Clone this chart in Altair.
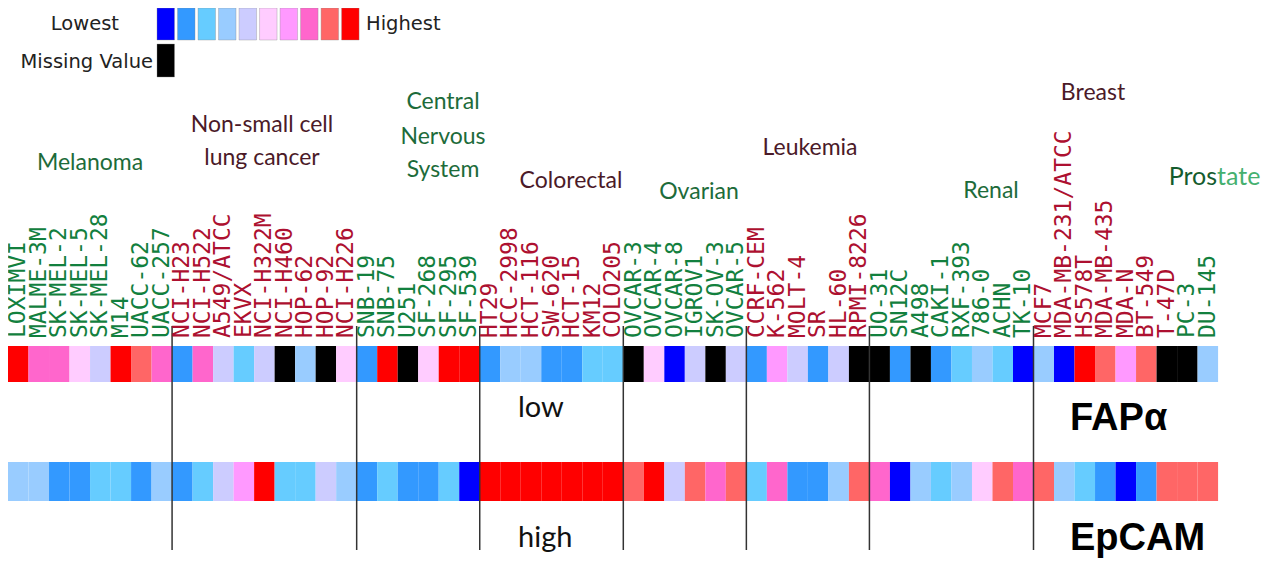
import altair as alt
import pandas as pd

# ---------------- data ----------------
groups = ["Melanoma", "Non-small cell lung cancer", "Central Nervous System",
          "Colorectal", "Ovarian", "Leukemia", "Renal", "Breast", "Prostate"]
group_sizes = [8, 9, 6, 7, 6, 6, 8, 7, 2]

cell_lines = [
    "LOXIMVI", "MALME-3M", "SK-MEL-2", "SK-MEL-5", "SK-MEL-28", "M14", "UACC-62", "UACC-257",
    "NCI-H23", "NCI-H522", "A549/ATCC", "EKVX", "NCI-H322M", "NCI-H460", "HOP-62", "HOP-92", "NCI-H226",
    "SNB-19", "SNB-75", "U251", "SF-268", "SF-295", "SF-539",
    "HT29", "HCC-2998", "HCT-116", "SW-620", "HCT-15", "KM12", "COLO205",
    "OVCAR-3", "OVCAR-4", "OVCAR-8", "IGROV1", "SK-OV-3", "OVCAR-5",
    "CCRF-CEM", "K-562", "MOLT-4", "SR", "HL-60", "RPMI-8226",
    "UO-31", "SN12C", "A498", "CAKI-1", "RXF-393", "786-0", "ACHN", "TK-10",
    "MCF7", "MDA-MB-231/ATCC", "HS578T", "MDA-MB-435", "MDA-N", "BT-549", "T-47D",
    "PC-3", "DU-145",
]

# expression level 1 (lowest) .. 10 (highest); 0 = missing value
fap_levels = [
    10, 8, 8, 6, 5, 10, 9, 8,
    2, 8, 5, 3, 5, 0, 4, 0, 6,
    2, 10, 0, 6, 10, 10,
    2, 4, 4, 2, 2, 3, 3,
    0, 6, 1, 5, 0, 5,
    2, 7, 5, 2, 5, 0,
    0, 2, 0, 2, 3, 4, 3, 1,
    4, 1, 10, 9, 7, 9, 0,
    0, 4,
]
epcam_levels = [
    4, 4, 2, 2, 3, 3, 2, 4,
    2, 3, 5, 7, 10, 3, 3, 5, 4,
    2, 3, 2, 2, 3, 1,
    10, 10, 10, 10, 10, 10, 10,
    9, 10, 5, 9, 8, 9,
    3, 8, 2, 2, 4, 9,
    8, 1, 4, 3, 4, 6, 9, 8,
    9, 4, 3, 2, 1, 2, 9,
    9, 9,
]

markers = ["FAPα", "EpCAM"]
marker_notes = ["low", "high"]

level_names = ["1", "2", "3", "4", "5", "6", "7", "8", "9", "10", "NA"]
level_colors = ["#0000ff", "#3399ff", "#66ccff", "#99ccff", "#ccccff",
                "#ffccff", "#ff99ff", "#ff66cc", "#ff6666", "#ff0000", "#000000"]

# ---------------- layout (pixels of the page) ----------------
CELL = 20.51
PAD_L = 8
W, H = 1262 - PAD_L, 552
XMAX = W / CELL
X0 = 8 + PAD_L  # page x of the plot origin


def ux(px):
    return (px - X0) / CELL


def uy(py):
    return py - 8


HEAT_X0 = ux(8)  # heatmap starts at page x = 8

xs = alt.Scale(domain=[0, XMAX], nice=False, zero=False)
ys = alt.Scale(domain=[0, H], nice=False, zero=False, reverse=True)
X = lambda f: alt.X(f, scale=xs, axis=None)
Y = lambda f: alt.Y(f, scale=ys, axis=None)

LABEL_GREEN = "#12803e"
LABEL_RED = "#ad1030"
TITLE_GREEN = "#1d6b3a"
TITLE_RED = "#4b1a28"

row_bands = [(346, 382), (462, 501)]

# heatmap cells
rows = []
for m, (marker, vals) in enumerate(zip(markers, [fap_levels, epcam_levels])):
    top, bot = row_bands[m]
    for i, (name, v) in enumerate(zip(cell_lines, vals)):
        rows.append({"marker": marker, "cell": name,
                     "x": HEAT_X0 + i, "x2": HEAT_X0 + i + 1,
                     "y": uy(top), "y2": uy(bot),
                     "level": "NA" if v == 0 else str(v)})
heat_df = pd.DataFrame(rows)

color_scale = alt.Scale(domain=level_names, range=level_colors)

heat = alt.Chart(heat_df).mark_rect().encode(
    x=X("x:Q"), x2="x2", y=Y("y:Q"), y2="y2",
    color=alt.Color("level:N", scale=color_scale, legend=None),
    tooltip=["marker", "cell", "level"],
)

# cell-line labels
label_rows = []
start = 0
for g, size in enumerate(group_sizes):
    col = LABEL_GREEN if g % 2 == 0 else LABEL_RED
    for i in range(start, start + size):
        label_rows.append({"x": HEAT_X0 + i + 0.5, "y": uy(338),
                           "label": cell_lines[i], "col": col})
    start += size
label_df = pd.DataFrame(label_rows)
labels = alt.Chart(label_df).mark_text(
    angle=270, align="left", baseline="middle", font="DejaVu Sans Mono", fontSize=23
).encode(x=X("x:Q"), y=Y("y:Q"), text="label:N", color=alt.Color("col:N", scale=None))

# group separators (none between Breast and Prostate)
bounds = []
acc = 0
for size in group_sizes[:-2]:
    acc += size
    bounds.append(HEAT_X0 + acc)
rule_df = pd.DataFrame({"x": bounds, "y": uy(326), "y2": uy(550)})
rules = alt.Chart(rule_df).mark_rule(color="#333333", strokeWidth=1.5).encode(
    x=X("x:Q"), y=Y("y:Q"), y2="y2")

# group titles (one row per text line)
title_lines = [
    ("Melanoma", 90, 163, TITLE_GREEN),
    ("Non-small cell", 262, 125, TITLE_RED),
    ("lung cancer", 262, 158, TITLE_RED),
    ("Central", 443, 102, TITLE_GREEN),
    ("Nervous", 443, 137, TITLE_GREEN),
    ("System", 443, 170, TITLE_GREEN),
    ("Colorectal", 571, 181, TITLE_RED),
    ("Ovarian", 699, 192, TITLE_GREEN),
    ("Leukemia", 810, 148, TITLE_RED),
    ("Renal", 991, 191, TITLE_GREEN),
    ("Breast", 1093, 93, TITLE_RED),
]
title_df = pd.DataFrame([{"t": t, "x": ux(x), "y": uy(y), "col": c} for t, x, y, c in title_lines])
titles = alt.Chart(title_df).mark_text(
    align="center", baseline="middle", font="Lato", fontSize=23
).encode(x=X("x:Q"), y=Y("y:Q"), text="t:N", color=alt.Color("col:N", scale=None))

pros_df = pd.DataFrame({"t": ["Pros"], "x": [ux(1217)], "y": [uy(177)]})
tate_df = pd.DataFrame({"t": ["tate"], "x": [ux(1217)], "y": [uy(177)]})
pros = alt.Chart(pros_df).mark_text(align="right", baseline="middle", font="Lato",
                                     fontSize=25, color="#145c2e").encode(
    x=X("x:Q"), y=Y("y:Q"), text="t:N")
tate = alt.Chart(tate_df).mark_text(align="left", baseline="middle", font="Lato",
                                     fontSize=25, color="#45b06f").encode(
    x=X("x:Q"), y=Y("y:Q"), text="t:N")

# marker names and notes
marker_df = pd.DataFrame({"t": markers, "x": [ux(1070)] * 2, "y": [uy(430), uy(550)]})
marker_txt = alt.Chart(marker_df).mark_text(
    align="left", baseline="alphabetic", font="Liberation Sans", fontWeight="bold",
    fontSize=38, color="#000000").encode(x=X("x:Q"), y=Y("y:Q"), text="t:N")

note_df = pd.DataFrame({"t": marker_notes, "x": [ux(518)] * 2, "y": [uy(408), uy(538)]})
note_txt = alt.Chart(note_df).mark_text(
    align="left", baseline="middle", font="Lato", fontSize=29, color="#111111").encode(
    x=X("x:Q"), y=Y("y:Q"), text="t:N")

# manual colour key
key_rows = []
for k, lv in enumerate(level_names[:-1]):
    key_rows.append({"x": ux(157) + k, "x2": ux(157) + k + 0.853,
                     "y": uy(8), "y2": uy(40), "level": lv})
key_rows.append({"x": ux(157), "x2": ux(157) + 0.853, "y": uy(44), "y2": uy(77), "level": "NA"})
key_df = pd.DataFrame(key_rows)
key = alt.Chart(key_df).mark_rect(stroke="#888888", strokeWidth=0.6, strokeOpacity=0.6).encode(
    x=X("x:Q"), x2="x2", y=Y("y:Q"), y2="y2",
    color=alt.Color("level:N", scale=color_scale, legend=None))

key_lr = pd.DataFrame({"t": ["Lowest", "Missing Value"], "x": [ux(119), ux(153)],
                       "y": [uy(24), uy(62)]})
key_left = alt.Chart(key_lr).mark_text(
    align="right", baseline="middle", font="DejaVu Sans", fontSize=19.5, color="#222222").encode(
    x=X("x:Q"), y=Y("y:Q"), text="t:N")
key_hi = pd.DataFrame({"t": ["Highest"], "x": [ux(366)], "y": [uy(24)]})
key_right = alt.Chart(key_hi).mark_text(
    align="left", baseline="middle", font="DejaVu Sans", fontSize=19.5, color="#222222").encode(
    x=X("x:Q"), y=Y("y:Q"), text="t:N")

chart = alt.layer(
    heat, key, rules, labels, titles, pros, tate, marker_txt, note_txt, key_left, key_right
).resolve_scale(color="independent").properties(
    width=W, height=H,
    padding={"left": PAD_L, "top": 0, "right": 0, "bottom": 0},
    autosize=alt.AutoSizeParams(type="none"),
).configure_view(stroke=None)

chart.save("out.html", embed_options={"renderer": "svg", "actions": False})
